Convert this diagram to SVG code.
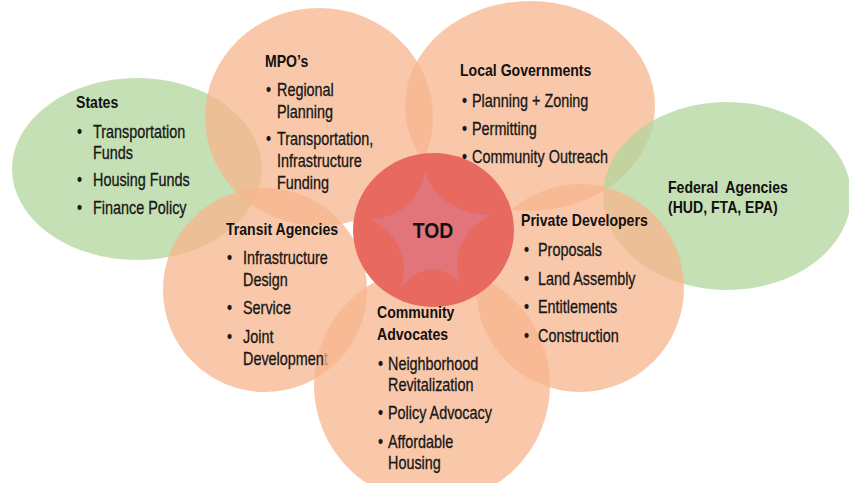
<svg xmlns="http://www.w3.org/2000/svg" width="849" height="483" viewBox="0 0 849 483">
  <style>
    .peach { fill: #f7b68e; fill-opacity: 0.75; }
    .green { fill: #b2d69b; fill-opacity: 0.75; }
    .core { fill: #e8695f; }
    .star { fill: #e2747b; }
    .h { font-family: "Liberation Sans", Arial, sans-serif; font-weight: bold; font-size: 16px; fill: #111; }
    .t { font-family: "Liberation Sans", Arial, sans-serif; font-size: 18px; fill: #161616; stroke: #161616; stroke-width: 0.3px; }
    .hub { font-family: "Liberation Sans", Arial, sans-serif; font-weight: bold; font-size: 22px; fill: #111; }
  </style>

  <rect width="849" height="483" fill="#ffffff"/>

  <!-- stakeholder shapes, back to front -->
  <g id="shapes">
    <g id="node-states"><ellipse class="green" cx="137" cy="169" rx="125" ry="91"/></g>
    <g id="node-mpos"><ellipse class="peach" cx="319" cy="117" rx="114" ry="109"/></g>
    <g id="node-local-governments"><ellipse class="peach" cx="530" cy="106" rx="125" ry="105"/></g>
    <g id="node-federal-agencies"><ellipse class="green" cx="727" cy="196" rx="124" ry="94"/></g>
    <g id="node-transit-agencies"><circle class="peach" cx="265" cy="290" r="102"/></g>
    <g id="node-private-developers"><circle class="peach" cx="580" cy="288" r="104"/></g>
    <g id="node-community-advocates"><circle class="peach" cx="432" cy="385" r="118"/></g>
    <g id="node-tod">
      <ellipse class="core" cx="433.5" cy="230" rx="80.5" ry="77"/>
      <path class="star" d="M425,171.7 Q440,213 490.7,215 Q448,238 460,283 Q430.4,254 401.7,286.7 Q412,241 370,220 Q417,215 425,171.7 Z"/>
    </g>
  </g>

  <!-- labels -->
  <g id="labels">
    <g id="label-states">
      <text class="h" transform="matrix(0.88 0 0 1 76 108)">States</text>
      <text class="t" transform="matrix(0.8 0 0 1 77 138)">•</text>
      <text class="t" transform="matrix(0.8 0 0 1 93 138)">Transportation</text>
      <text class="t" transform="matrix(0.8 0 0 1 93 159)">Funds</text>
      <text class="t" transform="matrix(0.8 0 0 1 77 186)">•</text>
      <text class="t" transform="matrix(0.8 0 0 1 93 186)">Housing Funds</text>
      <text class="t" transform="matrix(0.8 0 0 1 77 214)">•</text>
      <text class="t" transform="matrix(0.8 0 0 1 93 214)">Finance Policy</text>
    </g>

    <g id="label-mpos">
      <text class="h" transform="matrix(0.88 0 0 1 265 67)">MPO’s</text>
      <text class="t" transform="matrix(0.8 0 0 1 266 96)">•</text>
      <text class="t" transform="matrix(0.8 0 0 1 277 96)">Regional</text>
      <text class="t" transform="matrix(0.8 0 0 1 277 118)">Planning</text>
      <text class="t" transform="matrix(0.8 0 0 1 266 145)">•</text>
      <text class="t" transform="matrix(0.8 0 0 1 277 145)">Transportation,</text>
      <text class="t" transform="matrix(0.8 0 0 1 277 167)">Infrastructure</text>
      <text class="t" transform="matrix(0.8 0 0 1 277 189)">Funding</text>
    </g>

    <g id="label-local-governments">
      <text class="h" transform="matrix(0.88 0 0 1 460 76)">Local Governments</text>
      <text class="t" transform="matrix(0.8 0 0 1 462 107)">•</text>
      <text class="t" transform="matrix(0.8 0 0 1 472 107)">Planning + Zoning</text>
      <text class="t" transform="matrix(0.8 0 0 1 462 135)">•</text>
      <text class="t" transform="matrix(0.8 0 0 1 472 135)">Permitting</text>
      <text class="t" transform="matrix(0.8 0 0 1 462 163)">•</text>
      <text class="t" transform="matrix(0.8 0 0 1 472 163)">Community Outreach</text>
    </g>

    <g id="label-federal-agencies">
      <text class="h" transform="matrix(0.88 0 0 1 668 193)" xml:space="preserve">Federal  Agencies</text>
      <text class="h" transform="matrix(0.88 0 0 1 668 213)">(HUD, FTA, EPA)</text>
    </g>

    <g id="label-transit-agencies">
      <text class="h" transform="matrix(0.88 0 0 1 226 235)">Transit Agencies</text>
      <text class="t" transform="matrix(0.8 0 0 1 227 264)">•</text>
      <text class="t" transform="matrix(0.8 0 0 1 243 264)">Infrastructure</text>
      <text class="t" transform="matrix(0.8 0 0 1 243 286)">Design</text>
      <text class="t" transform="matrix(0.8 0 0 1 227 314)">•</text>
      <text class="t" transform="matrix(0.8 0 0 1 243 314)">Service</text>
      <text class="t" transform="matrix(0.8 0 0 1 227 343)">•</text>
      <text class="t" transform="matrix(0.8 0 0 1 243 343)">Joint</text>
      <text class="t" transform="matrix(0.8 0 0 1 243 365)">Developmen<tspan fill-opacity="0.25" stroke-opacity="0.25">t</tspan></text>
    </g>

    <g id="label-private-developers">
      <text class="h" transform="matrix(0.88 0 0 1 521 226)">Private Developers</text>
      <text class="t" transform="matrix(0.8 0 0 1 524 256)">•</text>
      <text class="t" transform="matrix(0.8 0 0 1 538 256)">Proposals</text>
      <text class="t" transform="matrix(0.8 0 0 1 524 285)">•</text>
      <text class="t" transform="matrix(0.8 0 0 1 538 285)">Land Assembly</text>
      <text class="t" transform="matrix(0.8 0 0 1 524 313)">•</text>
      <text class="t" transform="matrix(0.8 0 0 1 538 313)">Entitlements</text>
      <text class="t" transform="matrix(0.8 0 0 1 524 342)">•</text>
      <text class="t" transform="matrix(0.8 0 0 1 538 342)">Construction</text>
    </g>

    <g id="label-community-advocates">
      <text class="h" transform="matrix(0.88 0 0 1 377 318)">Community</text>
      <text class="h" transform="matrix(0.88 0 0 1 377 340)">Advocates</text>
      <text class="t" transform="matrix(0.8 0 0 1 378 370)">•</text>
      <text class="t" transform="matrix(0.8 0 0 1 388 370)">Neighborhood</text>
      <text class="t" transform="matrix(0.8 0 0 1 388 391)">Revitalization</text>
      <text class="t" transform="matrix(0.8 0 0 1 378 419)">•</text>
      <text class="t" transform="matrix(0.8 0 0 1 388 419)">Policy Advocacy</text>
      <text class="t" transform="matrix(0.8 0 0 1 378 448)">•</text>
      <text class="t" transform="matrix(0.8 0 0 1 388 448)">Affordable</text>
      <text class="t" transform="matrix(0.8 0 0 1 388 469)">Housing</text>
    </g>

    <g id="label-tod">
      <text class="hub" text-anchor="middle" transform="matrix(0.88 0 0 1 433 238)">TOD</text>
    </g>
  </g>
</svg>
